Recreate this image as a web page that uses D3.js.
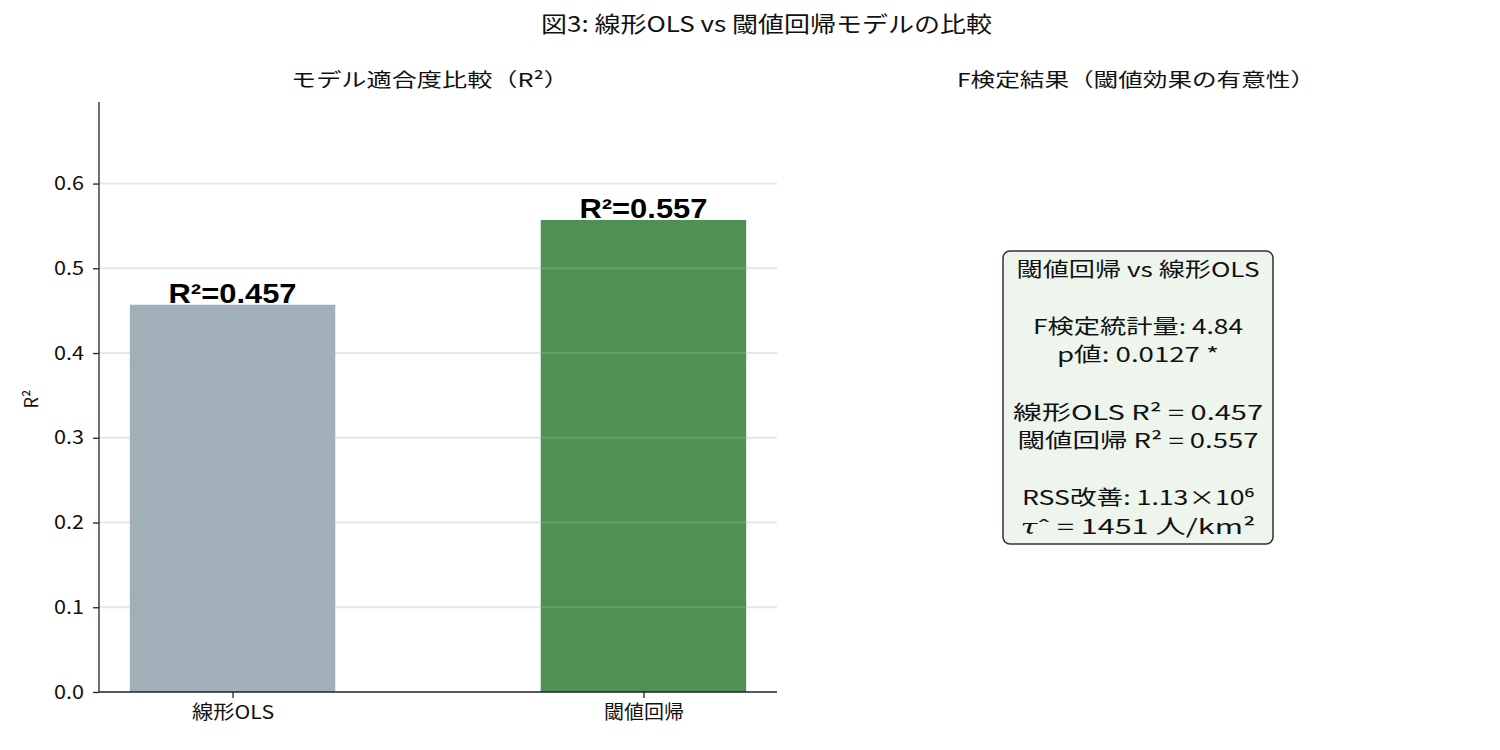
<!DOCTYPE html>
<html><head><meta charset="utf-8">
<script src="https://cdn.jsdelivr.net/npm/d3@7"></script>
<style>body{margin:0;background:#fff;} svg{display:block;font-family:"Noto Sans CJK JP","Noto Sans",sans-serif;}</style>
</head><body>
<script>
const categories = ["線形OLS", "閾値回帰"];
const r2Values = [0.457, 0.557];
const barColors = ["#a1b0b8", "#4f9153"];
const yTicks = [0.0, 0.1, 0.2, 0.3, 0.4, 0.5, 0.6];
const boxLines = ["閾値回帰 vs 線形OLS", "", "F検定統計量: 4.84", "p値: 0.0127 *", "", "線形OLS  R² = 0.457", "閾値回帰 R² = 0.557", "", "RSS改善: 1.13×10⁶", "τˆ = 1451 人/km²"];

// visual widths (layout only)
const boxLineWidths = [243, 0, 210, 162, 0, 250, 241, 0, 232, 235];
const catLabelWidths = [82, 80];

const W = 1500, H = 750;
const svg = d3.select("body").append("svg").attr("width", W).attr("height", H);

svg.append("text").attr("x", 541).attr("y", 32)
  .attr("font-size", 22).attr("fill", "#111")
  .attr("textLength", 451).attr("lengthAdjust", "spacingAndGlyphs")
  .text("図3: 線形OLS vs 閾値回帰モデルの比較");

// Left panel
const L = 99, R = 777, T = 102, B = 692;
const x = d3.scaleLinear().domain([-0.325, 1.325]).range([L, R]);
const y = d3.scaleLinear().domain([0, d3.max(r2Values) * 1.25]).range([B, T]);
const bw = x(0.25) - x(-0.25);

svg.append("text").attr("x", 291).attr("y", 87)
  .attr("font-size", 19).attr("fill", "#111")
  .attr("textLength", 278).attr("lengthAdjust", "spacingAndGlyphs")
  .text("モデル適合度比較（R²）");

const g = svg.append("g");
g.selectAll("rect.bar").data(r2Values).enter().append("rect")
  .attr("x", (d, i) => x(i) - bw / 2).attr("width", bw)
  .attr("y", d => y(d)).attr("height", d => B - y(d))
  .attr("fill", (d, i) => barColors[i]);

g.selectAll("line.grid").data(yTicks.filter(t => t > 0)).enter().append("line")
  .attr("x1", L).attr("x2", R).attr("y1", d => y(d)).attr("y2", d => y(d))
  .attr("stroke", "#b0b0b0").attr("stroke-opacity", 0.3).attr("stroke-width", 2);

g.selectAll("text.val").data(r2Values).enter().append("text")
  .attr("x", (d, i) => x(i)).attr("y", d => y(d) - 2).attr("text-anchor", "middle")
  .attr("font-family", "Liberation Sans, Arial, sans-serif").attr("font-weight", "bold")
  .attr("font-size", 28).attr("fill", "#000")
  .attr("textLength", 128).attr("lengthAdjust", "spacingAndGlyphs")
  .text(d => "R²=" + d.toFixed(3));

const yAxis = d3.axisLeft(y).tickValues(yTicks).tickFormat(d3.format(".1f")).tickSize(6).tickPadding(9);
const ya = svg.append("g").attr("transform", `translate(${L},0)`).call(yAxis);
ya.select(".domain").attr("stroke", "#222").attr("stroke-width", 1.3).attr("d", `M-0,${T}V${B}`);
ya.selectAll(".tick line").attr("stroke", "#222").attr("stroke-width", 1.3);
ya.selectAll(".tick text").attr("font-size", 19).attr("fill", "#111")
  .attr("font-family", "Noto Sans CJK JP")
  .attr("textLength", 30).attr("lengthAdjust", "spacingAndGlyphs");

const xAxis = d3.axisBottom(x).tickValues([0, 1]).tickFormat(i => categories[i]).tickSize(6).tickPadding(8);
const xa = svg.append("g").attr("transform", `translate(0,${B})`).call(xAxis);
xa.select(".domain").attr("stroke", "#222").attr("stroke-width", 1.3).attr("d", `M${L},0H${R}`);
xa.selectAll(".tick line").attr("stroke", "#222").attr("stroke-width", 1.3);
xa.selectAll(".tick text").attr("font-size", 19).attr("fill", "#111")
  .attr("font-family", "Noto Sans CJK JP")
  .attr("textLength", (d, i) => catLabelWidths[i]).attr("lengthAdjust", "spacingAndGlyphs");

svg.append("text").attr("transform", `translate(38,${(T + B) / 2 + 2}) rotate(-90)`).attr("text-anchor", "middle")
  .attr("font-size", 18).attr("fill", "#111").text("R²");

// Right panel
svg.append("text").attr("x", 957).attr("y", 87)
  .attr("font-size", 19).attr("fill", "#111")
  .attr("textLength", 358).attr("lengthAdjust", "spacingAndGlyphs")
  .text("F検定結果（閾値効果の有意性）");

svg.append("rect").attr("x", 1003).attr("y", 251).attr("width", 270).attr("height", 293)
  .attr("rx", 7).attr("ry", 7).attr("fill", "#edf5ed").attr("stroke", "#333").attr("stroke-width", 1.5);

const lineH = 28.6;
const bt = svg.append("g").selectAll("text").data(boxLines).enter().append("text")
  .filter(d => d.length > 0)
  .attr("x", 1138).attr("y", d => 276.5 + boxLines.indexOf(d) * lineH).attr("text-anchor", "middle")
  .attr("font-size", 20).attr("fill", "#111")
  .attr("textLength", d => boxLineWidths[boxLines.indexOf(d)]).attr("lengthAdjust", "spacingAndGlyphs");
bt.each(function(d) {
  const el = d3.select(this);
  if (d.startsWith("τ")) {
    el.append("tspan").attr("font-style", "italic").attr("font-family", "DejaVu Serif").text("τ");
    el.append("tspan").text(d.slice(1));
  } else {
    el.text(d);
  }
});
</script>
</body></html>
